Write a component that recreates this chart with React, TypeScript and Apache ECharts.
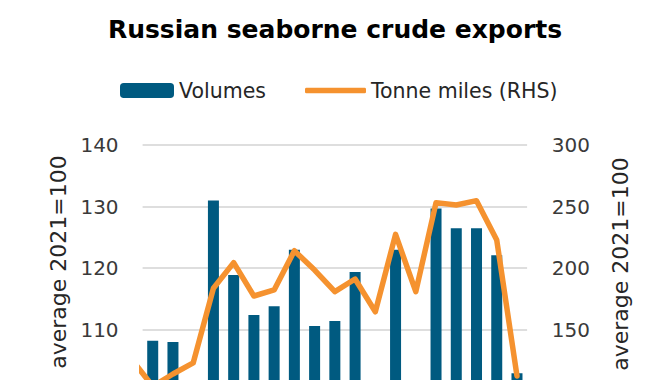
import React, { useEffect, useRef } from "react";
import * as echarts from "echarts";

const categories = [
  "Jan 22", "Feb 22", "Mar 22", "Apr 22", "May 22", "Jun 22", "Jul 22", "Aug 22", "Sep 22", "Oct 22",
  "Nov 22", "Dec 22", "Jan 23", "Feb 23", "Mar 23", "Apr 23", "May 23", "Jun 23", "Jul 23",
];
const volumes = [108.2, 108.0, 100, 131.0, 118.9, 112.4, 113.8, 123.0, 110.6, 111.4, 119.4, 97, 123.0, 99, 129.7, 126.5, 126.5, 122.1, 102.9];
const tonneMilesPrior = 125;
const tonneMiles = [104, 114, 123, 183.7, 204.5, 177.4, 182.3, 214.2, 198.5, 180.9, 191.2, 164.6, 227.5, 180.9, 253.3, 251.4, 254.9, 222.9, 112.4];
const leftTicks = { min: 80, max: 140, interval: 10, firstShown: 110 };
const rightTicks = { min: 0, max: 300, interval: 50, firstShown: 150 };

const FONT = "DejaVu Sans";
const H = 560;
const ORANGE = "#f5922f";

export default function App() {
  const ref = useRef<HTMLDivElement>(null);
  useEffect(() => {
    if (!ref.current) return;
    const chart = echarts.init(ref.current, undefined, { renderer: "svg" });
    const lineData = [[-1, tonneMilesPrior], ...tonneMiles.map((v, i) => [i, v])];
    chart.setOption({
      animation: false,
      backgroundColor: "#ffffff",
      title: {
        text: "Russian seaborne crude exports",
        left: "center",
        top: 12,
        textStyle: { fontFamily: FONT, fontWeight: "bold", fontSize: 25, color: "#000000" },
      },
      legend: [
        {
          data: [{ name: "Volumes" }],
          left: 120,
          top: 80,
          padding: 0,
          itemWidth: 54,
          itemHeight: 15,
          selectedMode: false,
          textStyle: { fontFamily: FONT, fontSize: 20.5, color: "#262626" },
        },
        {
          data: [{ name: "Tonne miles (RHS)", icon: "roundRect" }],
          left: 305,
          top: 80,
          padding: 0,
          itemWidth: 61,
          itemHeight: 5.5,
          selectedMode: false,
          itemStyle: { color: ORANGE, borderWidth: 0 },
          textStyle: { fontFamily: FONT, fontSize: 20.5, color: "#262626" },
        },
      ],
      grid: { left: 142.6, right: 142.9, top: 145.2, bottom: H - 514.2 },
      xAxis: [
        {
          type: "category",
          data: categories,
          axisLabel: { show: false },
          axisTick: { show: false },
          axisLine: { show: true, lineStyle: { color: "#d9d9d9" } },
        },
        { type: "value", min: -0.5, max: 18.5, show: false },
      ],
      yAxis: [
        {
          type: "value",
          min: leftTicks.min,
          max: leftTicks.max,
          interval: leftTicks.interval,
          axisLine: { show: false },
          axisTick: { show: false },
          axisLabel: {
            fontFamily: FONT,
            fontSize: 20,
            color: "#3a3a3a",
            margin: 24,
            formatter: (v: number) => (v >= leftTicks.firstShown ? String(v) : ""),
          },
          splitLine: { lineStyle: { color: "#d3d3d3", width: 1.5 } },
        },
        {
          type: "value",
          position: "right",
          min: rightTicks.min,
          max: rightTicks.max,
          interval: rightTicks.interval,
          axisLine: { show: false },
          axisTick: { show: false },
          axisLabel: {
            fontFamily: FONT,
            fontSize: 20,
            color: "#3a3a3a",
            margin: 24.6,
            formatter: (v: number) => (v >= rightTicks.firstShown ? String(v) : ""),
          },
          splitLine: { show: false },
        },
      ],
      graphic: [
        {
          type: "text",
          x: 58,
          y: 262,
          rotation: Math.PI / 2,
          style: {
            text: "average 2021=100",
            fontFamily: FONT,
            fontSize: 22,
            fill: "#262626",
            textAlign: "center",
            textVerticalAlign: "middle",
          },
        },
        {
          type: "text",
          x: 620,
          y: 264,
          rotation: Math.PI / 2,
          style: {
            text: "average 2021=100",
            fontFamily: FONT,
            fontSize: 22,
            fill: "#262626",
            textAlign: "center",
            textVerticalAlign: "middle",
          },
        },
      ],
      series: [
        {
          name: "Volumes",
          type: "bar",
          xAxisIndex: 0,
          yAxisIndex: 0,
          data: volumes,
          barWidth: 11,
          itemStyle: { color: "#005a80" },
        },
        {
          name: "Tonne miles (RHS)",
          type: "line",
          xAxisIndex: 1,
          yAxisIndex: 1,
          data: lineData,
          symbol: "none",
          clip: true,
          z: 5,
          lineStyle: { color: ORANGE, width: 5.5, cap: "round", join: "round" },
          itemStyle: { color: ORANGE },
        },
      ],
    });
    return () => chart.dispose();
  }, []);
  return (
    <div
      ref={ref}
      style={{ position: "fixed", left: 0, top: 0, width: 670, height: H }}
    />
  );
}
